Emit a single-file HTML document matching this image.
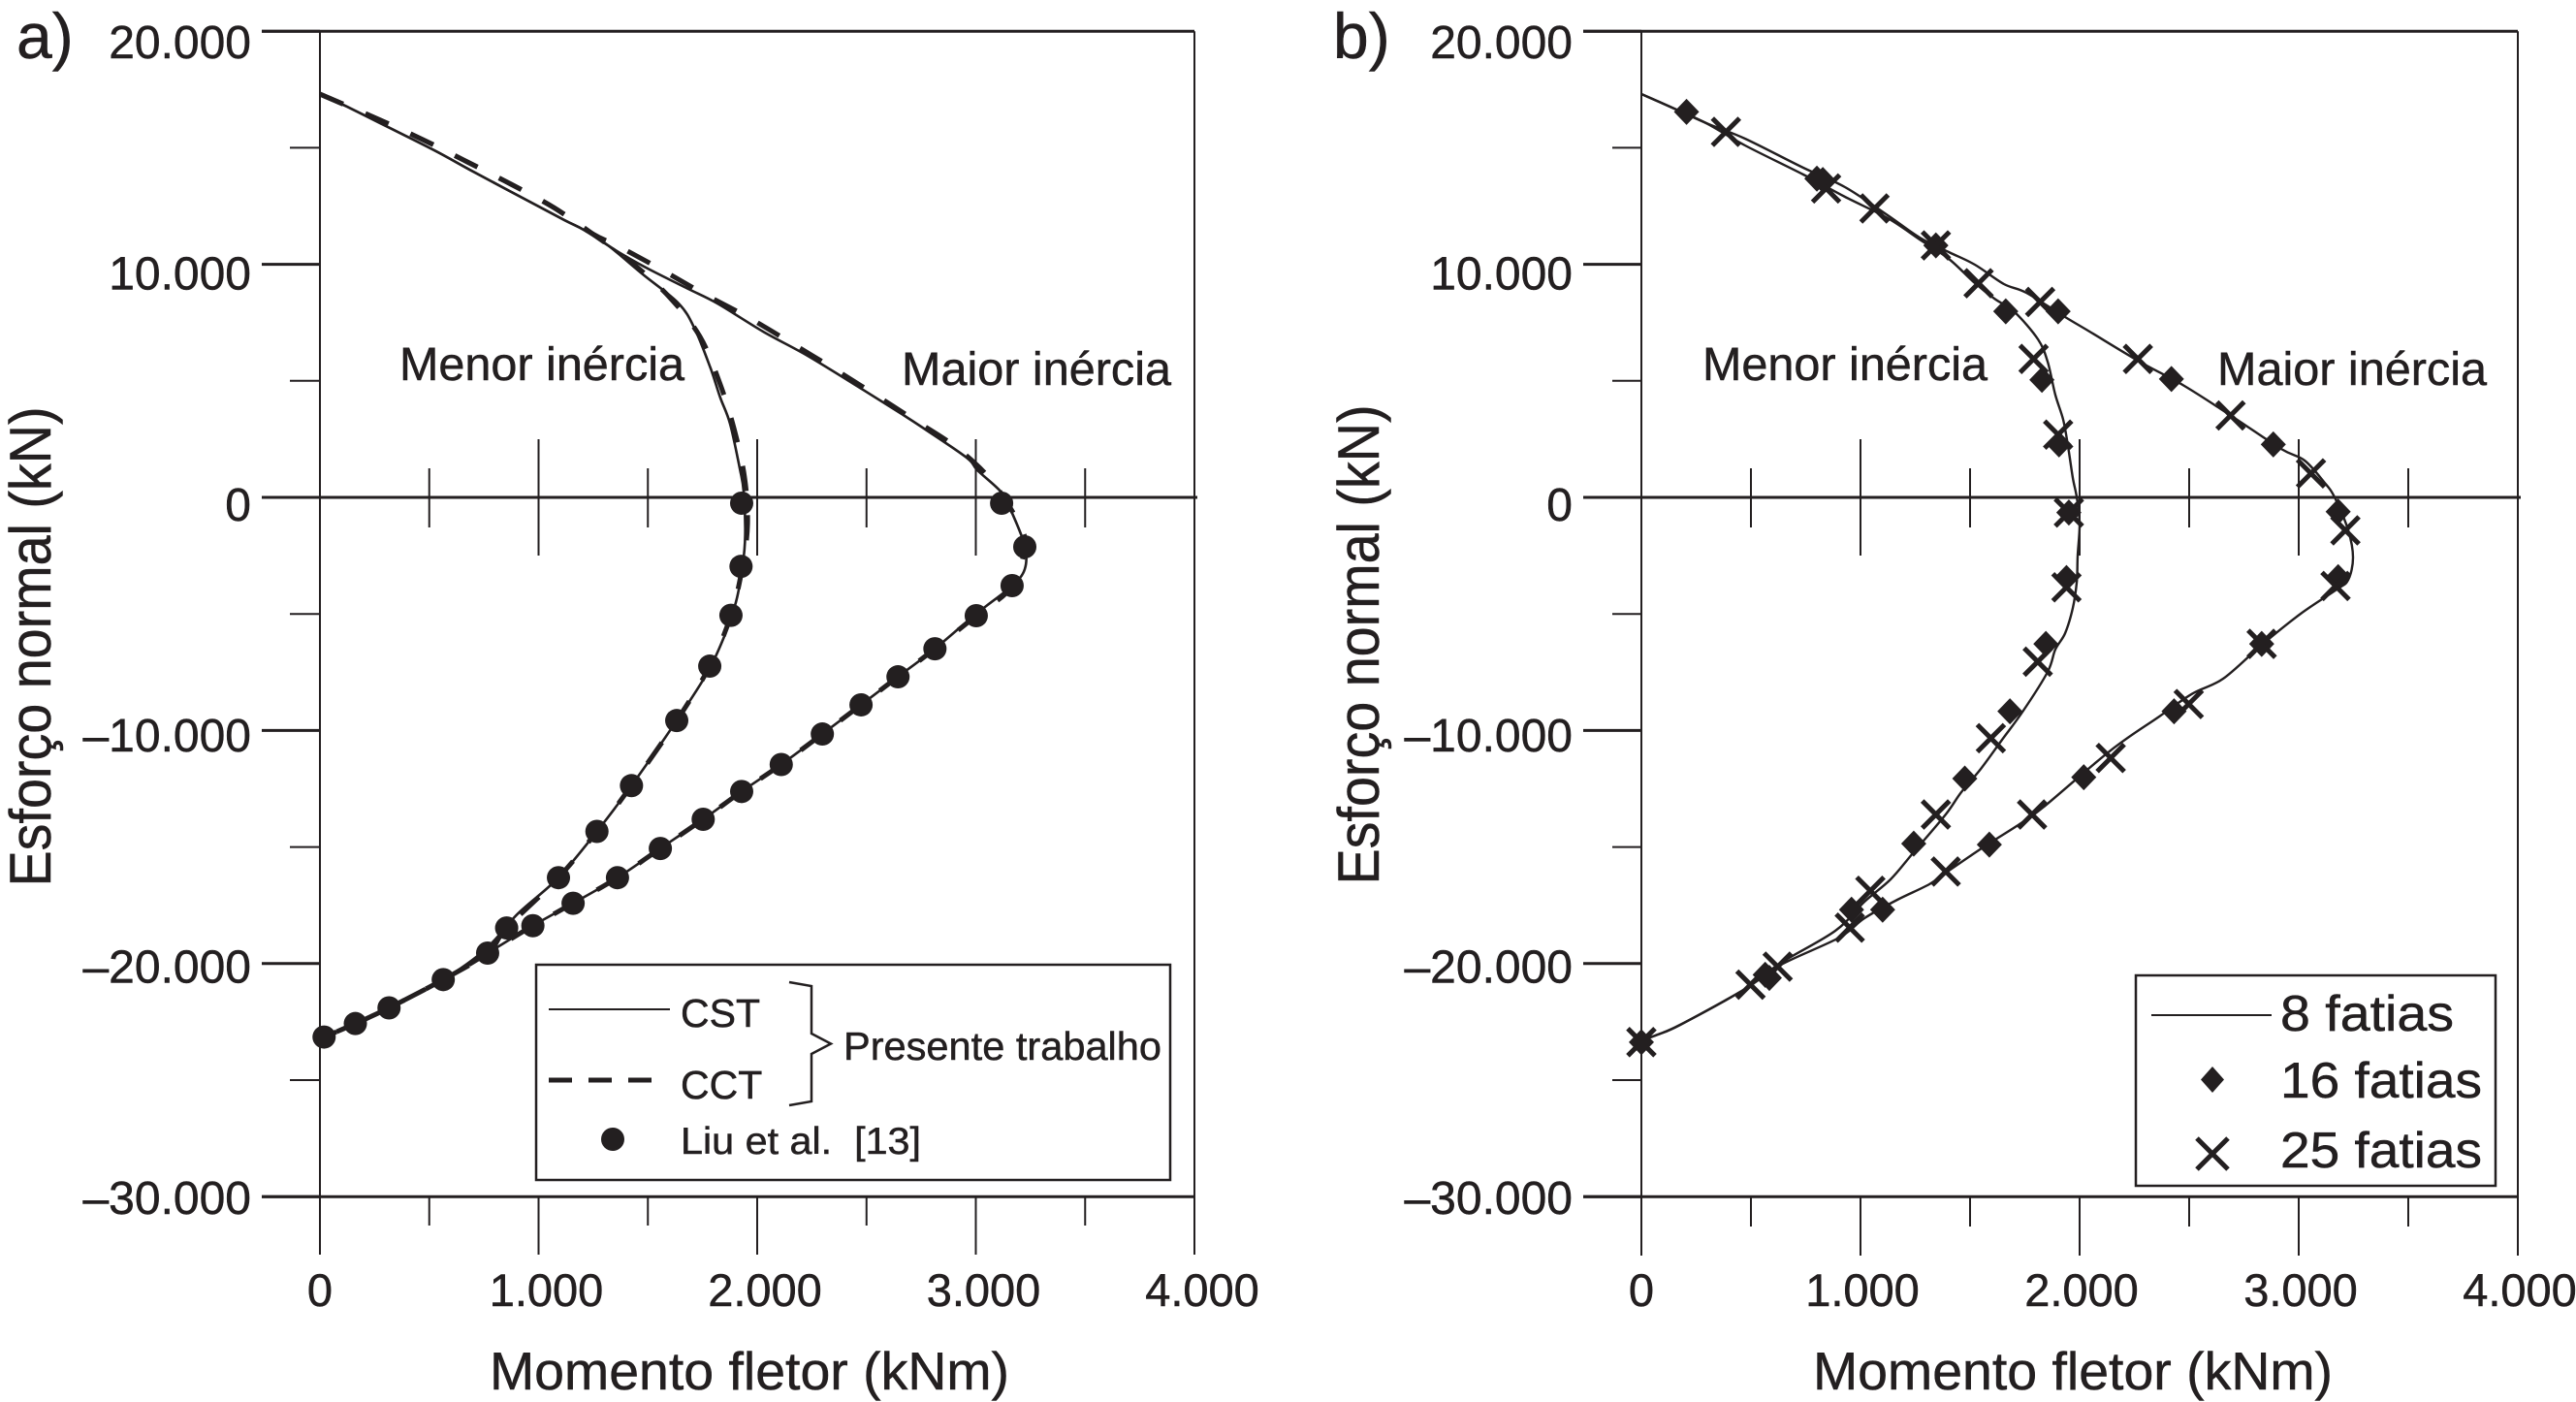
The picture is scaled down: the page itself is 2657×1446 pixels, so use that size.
<!DOCTYPE html>
<html lang="pt">
<head>
<meta charset="utf-8">
<title>Esforço normal vs Momento fletor</title>
<style>
html,body{margin:0;padding:0;background:#fff;}
svg{display:block;}
text{font-family:"Liberation Sans",Arial,sans-serif;fill:#231f20;stroke:#231f20;stroke-width:0.5px;}
</style>
</head>
<body>
<svg id="chart" xmlns="http://www.w3.org/2000/svg" width="2657" height="1446" viewBox="0 0 2657 1446">
  <rect x="0" y="0" width="2657" height="1446" fill="#fff"/>
  <g id="panelA"></g>
  <g id="panelB"></g>

  <g>
    <rect x="553" y="995" width="654" height="222" fill="#fff" stroke="#231f20" stroke-width="2.5"/>
    <line x1="566" y1="1041" x2="691" y2="1041" stroke="#231f20" stroke-width="2"/>
    <text x="702" y="1059" font-size="41">CST</text>
    <line x1="566" y1="1114" x2="672" y2="1114" stroke="#231f20" stroke-width="5" stroke-dasharray="24 17"/>
    <text x="702" y="1133" font-size="41">CCT</text>
    <path d="M814 1013 L837 1017 L837 1066 L857 1076.5 L837 1087 L837 1136 L814 1140" fill="none" stroke="#231f20" stroke-width="2.5"/>
    <text x="870" y="1093" font-size="41" textLength="328" lengthAdjust="spacingAndGlyphs">Presente trabalho</text>
    <circle cx="632" cy="1175" r="12" fill="#231f20"/>
    <text x="702" y="1190" font-size="39" xml:space="preserve" textLength="248" lengthAdjust="spacingAndGlyphs">Liu et al.  [13]</text>
  </g>

  <g>
    <rect x="2203" y="1006" width="371" height="217" fill="#fff" stroke="#231f20" stroke-width="2.5"/>
    <line x1="2219" y1="1047" x2="2343" y2="1047" stroke="#231f20" stroke-width="2"/>
    <text x="2352" y="1063" font-size="52" textLength="179" lengthAdjust="spacingAndGlyphs">8 fatias</text>
    <path d="M2282 1100 L2294 1113.5 L2282 1127 L2270 1113.5 Z" fill="#231f20"/>
    <text x="2352" y="1132" font-size="52" textLength="208" lengthAdjust="spacingAndGlyphs">16 fatias</text>
    <path d="M2266 1174 L2298 1206 M2298 1174 L2266 1206" fill="none" stroke="#231f20" stroke-width="5"/>
    <text x="2352" y="1204" font-size="52" textLength="208" lengthAdjust="spacingAndGlyphs">25 fatias</text>
  </g>
</svg>

<script>
// Shared tick values (kNm and kN)
var xMajorTicks = [0, 1000, 2000, 3000, 4000];
var xMinorTicks = [500, 1500, 2500, 3500];
var yMajorTicks = [20000, 10000, 0, -10000, -20000, -30000];
var yMinorTicks = [15000, 5000, -5000, -15000, -25000];
var xTickLabels = ['0', '1.000', '2.000', '3.000', '4.000'];
var yTickLabels = ['20.000', '10.000', '0', '–10.000', '–20.000', '–30.000'];

// Panel a: [moment kNm, normal kN]
var cstMenor = [[0,17300],[124,16764],[302,15932],[523,14892],[701,13977],[909,12937],[1118,11897],[1206,11481],[1317,10815],[1477,9567],[1641,8319],[1716,7196],[1787,5532],[1831,4285],[1876,3161],[1920,1248],[1938,250],[1945,-1620],[1933,-2960],[1903,-4490],[1847,-6020],[1771,-7540],[1632,-9574],[1425,-12366],[1267,-14331],[1091,-16315],[906,-17855],[756,-19400],[564,-20687],[316,-21900],[162,-22574],[19,-23152]];
var cstMaior = [[0,17300],[124,16764],[302,15932],[523,14892],[701,13977],[909,12937],[1118,11897],[1206,11481],[1317,10815],[1388,10400],[1508,9775],[1685,8943],[1818,8319],[2027,7113],[2231,6073],[2470,4700],[2661,3577],[2763,2953],[2958,1705],[3007,1165],[3118,208],[3162,-582],[3224,-2080],[3224,-3078],[3162,-3827],[3002,-4992],[2813,-6494],[2644,-7697],[2475,-8900],[2298,-10152],[2110,-11461],[1929,-12617],[1753,-13811],[1557,-15063],[1361,-16315],[1158,-17413],[974,-18376],[767,-19551],[564,-20687],[316,-21900],[162,-22574],[19,-23152]];
var cctMenor = [[0,17300],[257,16265],[470,15350],[674,14393],[874,13436],[1069,12438],[1246,11314],[1432,10025],[1601,8569],[1738,6905],[1827,4950],[1894,2953],[1942,874],[1956,-1123],[1933,-2960],[1880,-5060],[1783,-7240],[1632,-9574],[1425,-12366],[1267,-14331],[1091,-16315],[854,-18472],[767,-19551],[564,-20687],[316,-21900],[162,-22574],[19,-23152]];
var cctMaior = [[0,17300],[257,16265],[470,15350],[674,14393],[874,13436],[1069,12438],[1246,11314],[1366,10774],[1561,9775],[1756,8735],[1956,7737],[2151,6656],[2341,5574],[2532,4451],[2718,3328],[2914,2121],[3073,707],[3193,-1040],[3224,-2080],[3163,-3840],[3002,-5075],[2813,-6494],[2644,-7697],[2475,-8900],[2298,-10152],[2110,-11461],[1929,-12617],[1753,-13811],[1557,-15063],[1361,-16315],[1158,-17413],[974,-18376],[767,-19551],[564,-20687],[316,-21900],[162,-22574],[19,-23152]];
var liuMenor = [[1929,-248],[1926,-2960],[1880,-5060],[1783,-7240],[1632,-9574],[1425,-12366],[1267,-14331],[1091,-16315],[854,-18472],[767,-19551],[564,-20687],[316,-21900],[162,-22574],[19,-23152]];
var liuMaior = [[3118,-250],[3224,-2121],[3166,-3785],[3002,-5075],[2813,-6494],[2644,-7697],[2475,-8900],[2298,-10152],[2110,-11461],[1929,-12617],[1753,-13811],[1557,-15063],[1361,-16315],[1158,-17413],[974,-18376]];

// Panel b: [moment kNm, normal kN]
var fatias8Menor = [[0,17305],[150,16681],[296,16057],[473,15100],[739,13852],[929,12895],[1124,11980],[1270,11065],[1403,10233],[1522,9193],[1611,8527],[1704,7945],[1810,6780],[1854,5824],[1889,4409],[1925,3328],[1947,2205],[1969,832],[1987,0],[2000,-1123],[1991,-2496],[1987,-3619],[1969,-4742],[1934,-5824],[1889,-6531],[1854,-7488],[1743,-9151],[1646,-10399],[1549,-11647],[1460,-12646],[1389,-13602],[1239,-15266],[1137,-16389],[1018,-17346],[885,-18594],[637,-19967],[473,-21090],[177,-22629],[75,-23045],[0,-23295]];
var fatias8Maior = [[0,17305],[150,16681],[296,16057],[473,15391],[739,14143],[929,13311],[1124,12105],[1270,11148],[1403,10524],[1522,9983],[1655,9151],[1757,8777],[1934,7737],[2053,7072],[2274,5824],[2478,4784],[2686,3536],[2920,2080],[3027,1581],[3115,666],[3164,0],[3226,-1414],[3248,-2579],[3226,-3536],[3173,-3952],[3009,-4992],[2832,-6323],[2655,-7779],[2513,-8430],[2363,-9406],[2142,-10851],[1832,-13311],[1726,-14018],[1566,-14975],[1403,-16015],[1314,-16597],[1168,-17263],[1018,-18053],[903,-18885],[637,-20050],[473,-21090],[177,-22629],[75,-23045],[0,-23295]];
var fatias16 = [[206,16540],[801,13675],[828,13618],[1344,10810],[1663,7984],[1902,7984],[1828,5042],[2419,5080],[1906,2273],[2884,2273],[1951,-650],[3180,-611],[1940,-3457],[3180,-3419],[1846,-6284],[2831,-6284],[1682,-9175],[2431,-9175],[1476,-12064],[2019,-12006],[1243,-14857],[1588,-14896],[959,-17688],[1101,-17688],[565,-20480],[584,-20616],[0,-23370]];
var fatias25 = [[386,15681],[843,13255],[1064,12396],[1344,10810],[1539,9187],[1820,8385],[1790,5940],[2266,5940],[2689,3514],[1902,2693],[3056,1031],[1951,-650],[3213,-1413],[1940,-3858],[3168,-3800],[2831,-6284],[1809,-7048],[2498,-8867],[1595,-10331],[2142,-11178],[1344,-13605],[1783,-13605],[1389,-16051],[1045,-16879],[951,-18458],[622,-20134],[498,-20905],[0,-23370]];

var SVGNS = 'http://www.w3.org/2000/svg';
var INK = '#231f20';

function make(parent, tag, attrs, name) {
  var el = document.createElementNS(SVGNS, tag);
  for (var k in attrs) { el.setAttribute(k, attrs[k]); }
  
  
  parent.appendChild(el);
  return el;
}
function label(parent, str, attrs, name) {
  var el = make(parent, 'text', attrs, name);
  el.textContent = str;
  return el;
}

function buildAxes(root, p) {
  function sx(v) { return p.x0 + v * p.xScale; }
  function sy(v) { return p.y0 - v * p.yScale; }
  p.sx = sx; p.sy = sy;
  var top = sy(20000), bottom = sy(-30000), zero = sy(0);
  function seg(x1, y1, x2, y2, name, w) {
    make(root, 'line', {x1: x1, y1: y1, x2: x2, y2: y2, stroke: INK, 'stroke-width': w}, name);
  }
  seg(sx(0), top, sx(0), p.majorEnd, 'y-axis-line', 2);
  seg(sx(4000), top, sx(4000), p.majorEnd, 'right-frame-line', 2);
  seg(p.leftMajor, top, sx(4000), top, 'top-frame-line', 3);
  seg(p.leftMajor, bottom, sx(4000), bottom, 'x-axis-line', 3);
  seg(p.leftMajor, zero, sx(4000) + 3, zero, 'zero-line', 3);

  yMajorTicks.forEach(function (v, i) {
    seg(p.leftMajor, sy(v), sx(0), sy(v), 'y-major-tick', 3);
    var ty = 60 + (20000 - v) * 0.02384;
    label(root, yTickLabels[i], {x: p.yLabelX, y: ty, 'font-size': 48, 'text-anchor': 'end'}, 'y-tick-label');
  });
  yMinorTicks.forEach(function (v) {
    seg(p.leftMinor, sy(v), sx(0), sy(v), 'y-minor-tick', 2);
  });
  xMajorTicks.forEach(function (v, i) {
    if (v !== 0 && v !== 4000) {
      seg(sx(v), bottom, sx(v), p.majorEnd, 'x-major-tick', 2);
      seg(sx(v), zero - 60, sx(v), zero + 60, 'zero-major-tick', 2);
    }
    label(root, xTickLabels[i], {x: sx(v) + (v === 0 ? 0 : p.xLabelShift), y: 1347, 'font-size': 47, 'text-anchor': 'middle'}, 'x-tick-label');
  });
  xMinorTicks.forEach(function (v) {
    seg(sx(v), bottom, sx(v), p.minorEnd, 'x-minor-tick', 2);
    seg(sx(v), zero - 30, sx(v), zero + 31, 'zero-minor-tick', 2);
  });

  label(root, p.letter, {x: p.letterX, y: 60, 'font-size': 66}, 'panel-letter');
  label(root, 'Menor inércia', {x: p.menorX, y: 392, 'font-size': 48, textLength: 294, lengthAdjust: 'spacingAndGlyphs'}, 'menor-inercia-label');
  label(root, 'Maior inércia', {x: p.maiorX, y: 397, 'font-size': 48, textLength: p.maiorW, lengthAdjust: 'spacingAndGlyphs'}, 'maior-inercia-label');
  label(root, 'Momento fletor (kNm)', {x: p.xTitleX, y: 1433, 'font-size': 55, textLength: 536, lengthAdjust: 'spacingAndGlyphs'}, 'x-axis-title');
  label(root, 'Esforço normal (kN)', {
    x: 0, y: 0, 'font-size': 60, 'text-anchor': 'middle',
    transform: 'translate(' + p.yTitleX + ' ' + p.yTitleY + ') rotate(-90)',
    textLength: 495, lengthAdjust: 'spacingAndGlyphs'
  }, 'y-axis-title');
}

// Smooth Catmull-Rom path through the data points
function curvePath(p, data) {
  var pts = data.map(function (d) { return [p.sx(d[0]), p.sy(d[1])]; });
  var s = 'M' + pts[0][0].toFixed(1) + ' ' + pts[0][1].toFixed(1);
  for (var i = 0; i < pts.length - 1; i++) {
    var a = pts[Math.max(i - 1, 0)], b = pts[i], c = pts[i + 1], e = pts[Math.min(i + 2, pts.length - 1)];
    var c1x = b[0] + (c[0] - a[0]) / 6, c1y = b[1] + (c[1] - a[1]) / 6;
    var c2x = c[0] - (e[0] - b[0]) / 6, c2y = c[1] - (e[1] - b[1]) / 6;
    s += ' C' + c1x.toFixed(1) + ' ' + c1y.toFixed(1) + ' ' + c2x.toFixed(1) + ' ' + c2y.toFixed(1) + ' ' + c[0].toFixed(1) + ' ' + c[1].toFixed(1);
  }
  return s;
}

function drawLine(root, p, data, width, dash, name) {
  var attrs = {d: curvePath(p, data), fill: 'none', stroke: INK, 'stroke-width': width, 'stroke-linejoin': 'round'};
  if (dash) { attrs['stroke-dasharray'] = dash; }
  make(root, 'path', attrs, name);
}

var panelA = {letter: 'a)', letterX: 17, x0: 330, xScale: 0.2255, y0: 513, yScale: 0.02404,
  leftMajor: 270, leftMinor: 299, majorEnd: 1294, minorEnd: 1264, yLabelX: 259, xLabelShift: 8,
  menorX: 412, maiorX: 930, maiorW: 278, xTitleX: 505, yTitleX: 52, yTitleY: 667};
var panelB = {letter: 'b)', letterX: 1375, x0: 1693, xScale: 0.226, y0: 513, yScale: 0.02404,
  leftMajor: 1633, leftMinor: 1663, majorEnd: 1295, minorEnd: 1265, yLabelX: 1622, xLabelShift: 2,
  menorX: 1756, maiorX: 2287, maiorW: 278, xTitleX: 1870, yTitleX: 1422, yTitleY: 665};

var rootA = document.getElementById('panelA');
var rootB = document.getElementById('panelB');
buildAxes(rootA, panelA);
buildAxes(rootB, panelB);

// Panel a series
drawLine(rootA, panelA, cstMenor, 2.6, null, 'cst-menor-inercia-line');
drawLine(rootA, panelA, cstMaior, 2.6, null, 'cst-maior-inercia-line');
drawLine(rootA, panelA, cctMenor, 5, '26 25', 'cct-menor-inercia-line');
drawLine(rootA, panelA, cctMaior, 5, '26 25', 'cct-maior-inercia-line');
liuMenor.concat(liuMaior).forEach(function (d) {
  make(rootA, 'circle', {cx: panelA.sx(d[0]), cy: panelA.sy(d[1]), r: 12, fill: INK}, 'liu-point');
});

// Panel b series
drawLine(rootB, panelB, fatias8Menor, 2.4, null, 'fatias-8-menor-inercia-line');
drawLine(rootB, panelB, fatias8Maior, 2.4, null, 'fatias-8-maior-inercia-line');
fatias16.forEach(function (d) {
  var cx = panelB.sx(d[0]), cy = panelB.sy(d[1]);
  make(rootB, 'path', {d: 'M' + cx + ' ' + (cy - 13.5) + ' L' + (cx + 13) + ' ' + cy + ' L' + cx + ' ' + (cy + 13.5) + ' L' + (cx - 13) + ' ' + cy + ' Z', fill: INK}, 'fatias-16-point');
});
fatias25.forEach(function (d) {
  var cx = panelB.sx(d[0]), cy = panelB.sy(d[1]), s = 14;
  make(rootB, 'path', {d: 'M' + (cx - s) + ' ' + (cy - s) + ' L' + (cx + s) + ' ' + (cy + s) + ' M' + (cx + s) + ' ' + (cy - s) + ' L' + (cx - s) + ' ' + (cy + s), fill: 'none', stroke: INK, 'stroke-width': 5}, 'fatias-25-point');
});
</script>
</body>
</html>
